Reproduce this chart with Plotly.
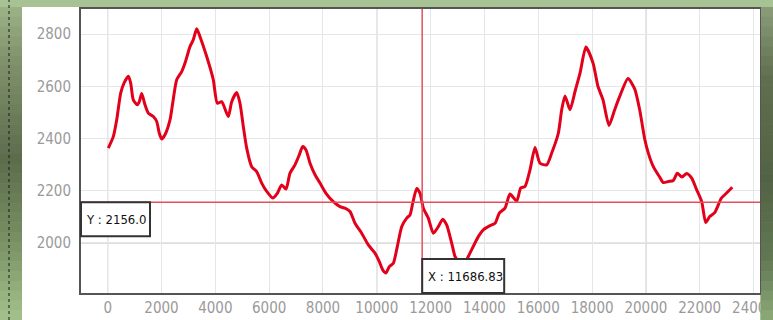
import plotly.graph_objects as go

# ---------------- data ----------------
x_vals = [22, 208, 334, 483, 606, 766, 855, 951, 1100, 1175, 1263, 1386, 1509, 1695, 1821, 1918, 2007,
          2129, 2315, 2415, 2564, 2750, 2873, 3058, 3181, 3308, 3430, 3679, 3924, 4073, 4236, 4481,
          4608, 4794, 4916, 5039, 5165, 5351, 5537, 5723, 5909, 6132, 6303, 6466, 6626, 6774, 6960,
          7120, 7246, 7369, 7518, 7704, 7890, 8112, 8384, 8633, 8818, 9004, 9190, 9439, 9685, 9933,
          10093, 10219, 10342, 10465, 10614, 10762, 10925, 11111, 11234, 11335, 11483, 11607, 11730,
          11914, 12100, 12286, 12449, 12597, 12783, 12906, 13029, 13193, 13400, 13772, 13958, 14207,
          14393, 14553, 14764, 14950, 15199, 15348, 15508, 15694, 15880, 16066, 16314, 16500, 16745,
          16871, 16994, 17180, 17366, 17552, 17770, 18035, 18220, 18406, 18629, 18840, 19026, 19334,
          19583, 19769, 19955, 20090, 20276, 20524, 20647, 20833, 21018, 21167, 21330, 21516, 21702,
          21888, 22074, 22222, 22371, 22557, 22802, 22988, 23211]
y_vals = [2363, 2407, 2471, 2574, 2612, 2638, 2612, 2548, 2529, 2541, 2572, 2529, 2497, 2484, 2465, 2420, 2398,
          2414, 2471, 2535, 2625, 2656, 2689, 2752, 2778, 2820, 2790, 2714, 2625, 2535, 2541, 2484,
          2541, 2576, 2535, 2446, 2363, 2292, 2273, 2229, 2197, 2172, 2190, 2222, 2206, 2267, 2299,
          2337, 2369, 2356, 2305, 2261, 2229, 2190, 2158, 2139, 2133, 2120, 2075, 2037, 1992, 1961,
          1928, 1897, 1885, 1909, 1922, 1986, 2062, 2095, 2107, 2152, 2208, 2190, 2133,
          2095, 2037, 2062, 2091, 2069, 1999, 1948, 1928, 1910, 1948, 2024, 2050, 2066,
          2075, 2114, 2133, 2187, 2160, 2210, 2216, 2280, 2365, 2305, 2299, 2344, 2420,
          2510, 2563, 2510, 2580, 2650, 2750, 2689, 2599, 2548, 2450, 2510, 2561, 2630,
          2590, 2510, 2398, 2344, 2292, 2250, 2231, 2235, 2239, 2267, 2252, 2266, 2248,
          2203, 2158, 2078, 2101, 2116, 2171, 2190, 2213]

x_ticks = [0, 2000, 4000, 6000, 8000, 10000, 12000, 14000, 16000, 18000, 20000, 22000, 24000]
y_ticks = [2000, 2200, 2400, 2600, 2800]
x_major = [0, 10000, 20000]
y_major = [2000]
cursor_x = 11686.83
cursor_y = 2156.0

X_RANGE = [-992, 24240]
Y_RANGE = [1808, 2896]

# ---------------- geometry ----------------
W, H = 773, 320
L, R, T, B = 81, 13, 9, 27
PW, PH = W - L - R, H - T - B


def px(xp):  # pixel -> paper x
    return (xp - L) / PW


def py(yp):  # pixel -> paper y
    return (H - B - yp) / PH


def dx_to_px(v):
    return L + (v - X_RANGE[0]) / (X_RANGE[1] - X_RANGE[0]) * PW


def dy_to_px(v):
    return T + (Y_RANGE[1] - v) / (Y_RANGE[1] - Y_RANGE[0]) * PH


fig = go.Figure()
fig.add_trace(go.Scatter(x=x_vals, y=y_vals, mode="lines",
                         line=dict(color="#e3001b", width=3, shape="spline", smoothing=0.6),
                         hoverinfo="skip", showlegend=False))

shapes = []
# white panel
shapes.append(dict(type="rect", xref="paper", yref="paper", x0=px(22), x1=px(760), y0=py(320), y1=py(7),
                   fillcolor="white", line=dict(width=0), layer="below"))


def lerp(c1, c2, t):
    return "#%02x%02x%02x" % tuple(int(round(a + (b - a) * t)) for a, b in zip(c1, c2))


def band(x0p, x1p, stops, n=32):
    for i in range(n):
        y0 = 7 + (320 - 7) * i / n
        y1 = 7 + (320 - 7) * (i + 1) / n
        ym = (y0 + y1) / 2
        col = None
        for j in range(len(stops) - 1):
            if stops[j][0] <= ym <= stops[j + 1][0]:
                t = (ym - stops[j][0]) / (stops[j + 1][0] - stops[j][0])
                col = lerp(stops[j][1], stops[j + 1][1], t)
                break
        shapes.append(dict(type="rect", xref="paper", yref="paper", x0=px(x0p), x1=px(x1p),
                           y0=py(y1 + 0.5), y1=py(y0), fillcolor=col, line=dict(width=0), layer="above"))


left_stops = [(7, (0x9c, 0xb2, 0x86)), (60, (0x80, 0x92, 0x6c)), (160, (0x5c, 0x6c, 0x4c)),
              (240, (0x78, 0x90, 0x64)), (320, (0xa4, 0xc2, 0x8c))]
right_stops = [(7, (0x8a, 0x9c, 0x78)), (80, (0x5e, 0x6e, 0x4e)), (180, (0x52, 0x62, 0x44)),
               (260, (0x62, 0x78, 0x54)), (320, (0x8c, 0xaa, 0x78))]
band(0, 22, left_stops)
band(761, 773, right_stops)
# top strip
shapes.append(dict(type="rect", xref="paper", yref="paper", x0=px(0), x1=px(773), y0=py(7), y1=py(0),
                   fillcolor="#a8c393", line=dict(width=0), layer="above"))
# dotted line in left strip
shapes.append(dict(type="line", xref="paper", yref="paper", x0=px(9), x1=px(9), y0=py(320), y1=py(0),
                   line=dict(color="#1a1a1a", width=1, dash="dot"), layer="above"))

# major grid lines (darker)
for v in x_major:
    shapes.append(dict(type="line", xref="x", yref="paper", x0=v, x1=v, y0=0, y1=1,
                       line=dict(color="#b4b4b4", width=1), layer="below"))
for v in y_major:
    shapes.append(dict(type="line", xref="paper", yref="y", x0=0, x1=1, y0=v, y1=v,
                       line=dict(color="#a8a8a8", width=1), layer="below"))

# crosshair
shapes.append(dict(type="line", xref="x", yref="paper", x0=cursor_x, x1=cursor_x, y0=0, y1=1,
                   line=dict(color="#e2505e", width=1.5), layer="above"))
shapes.append(dict(type="line", xref="paper", yref="y", x0=0, x1=1, y0=cursor_y, y1=cursor_y,
                   line=dict(color="#e2505e", width=1.5), layer="above"))

# label boxes
cy = dy_to_px(cursor_y)
shapes.append(dict(type="rect", xref="paper", yref="paper", x0=px(81), x1=px(150), y0=py(cy + 34), y1=py(cy),
                   fillcolor="white", line=dict(color="#333333", width=2), layer="above"))
cxp = dx_to_px(cursor_x)
shapes.append(dict(type="rect", xref="paper", yref="paper", x0=px(cxp), x1=px(cxp + 82), y0=py(293), y1=py(259),
                   fillcolor="white", line=dict(color="#333333", width=2), layer="above"))

lab_font = dict(family="Liberation Sans Narrow, DejaVu Sans Condensed, Arial", size=13, color="#111111")
annotations = [
    dict(text="Y : %.1f" % cursor_y, xref="paper", yref="paper", x=px(84), y=py(cy + 17),
         xanchor="left", yanchor="middle", showarrow=False, font=lab_font),
    dict(text="X : %.2f" % cursor_x, xref="paper", yref="paper", x=px(cxp + 4), y=py(276),
         xanchor="left", yanchor="middle", showarrow=False, font=lab_font),
]

tick_font = dict(family="Liberation Sans Narrow, DejaVu Sans Condensed, Arial", size=15, color="#9a9a9a")

fig.update_layout(
    width=W, height=H, autosize=False,
    margin=dict(l=L, r=R, t=T, b=B, pad=0, autoexpand=False),
    paper_bgcolor="#a8c393",
    plot_bgcolor="white",
    shapes=shapes,
    annotations=annotations,
    showlegend=False,
    xaxis=dict(range=X_RANGE, tickmode="array", tickvals=x_ticks, ticktext=[str(v) for v in x_ticks],
               showgrid=True, gridcolor="#e4e6ea", gridwidth=1, zeroline=False,
               showline=True, linecolor="#555555", linewidth=2, mirror=True,
               ticks="", tickfont=tick_font,
               ticklabeloverflow="allow", automargin=False),
    yaxis=dict(range=Y_RANGE, tickmode="array", tickvals=y_ticks, ticktext=[str(v) for v in y_ticks],
               showgrid=True, gridcolor="#e4e6ea", gridwidth=1, zeroline=False,
               showline=True, linecolor="#555555", linewidth=2, mirror=True,
               ticks="outside", ticklen=5, tickcolor="rgba(0,0,0,0)", tickfont=tick_font,
               automargin=False),
)

fig.write_html("out.html", config={"displayModeBar": False},
               post_script="document.body.style.margin='0';document.body.style.overflow='hidden';")
